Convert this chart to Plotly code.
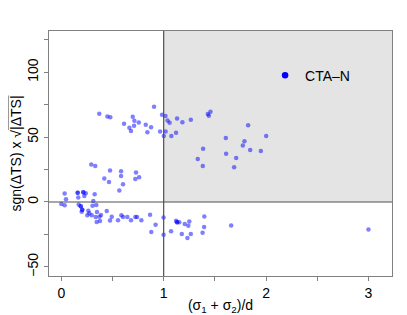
import plotly.graph_objects as go

# ratio (sigma1+sigma2)/d
x_vals = [
    0.371, 0.450, 0.479, 0.906, 0.613, 0.698, 0.714, 0.757, 0.711, 0.665,
    0.681, 0.825, 0.877, 0.841, 0.965, 0.984, 1.017, 1.038, 1.058, 1.019,
    1.001, 1.075, 1.121, 1.131, 1.183, 1.265, 1.431, 1.457, 1.441, 1.825,
    2.001, 1.607, 1.789, 1.773, 1.845, 1.949, 1.385, 1.333, 1.382, 1.610,
    1.708, 1.688,
    0.293, 0.332, 0.476, 0.584, 0.730, 0.584, 0.420, 0.466, 0.603, 0.760,
    0.723, 0.567,
    0.033, 0.046, 0.160, 0.215, 0.239, 0.225, 0.166, 0.326, 0.313, 0.000,
    0.033, 0.170, 0.190, 0.342, 0.305, 0.205, 0.199, 0.264, 0.274, 0.297,
    0.254, 0.349, 0.388, 0.373, 0.444, 0.336, 0.346, 0.378, 0.476, 0.493,
    0.554, 0.587, 0.603, 0.645, 0.681, 0.723, 0.740, 0.782, 0.867, 0.921,
    0.879, 0.999, 0.999, 1.072, 1.121, 1.131, 1.152, 1.206, 1.250, 1.241,
    1.177, 1.232, 1.265, 1.380, 1.395, 1.397, 1.659, 3.000,
    0.160, 0.215, 0.205, 0.190, 1.131,
]
# sgn(dTS) * sqrt(|dTS|)
y_vals = [
    68.0, 65.9, 65.2, 73.4, 60.3, 65.7, 62.6, 61.3, 58.8, 57.2,
    54.6, 59.5, 57.5, 53.8, 54.2, 67.2, 66.2, 62.8, 61.1, 54.2,
    50.8, 50.8, 53.4, 64.4, 61.5, 63.4, 67.7, 69.5, 66.5, 59.2,
    50.8, 49.2, 46.7, 43.6, 40.0, 39.2, 41.1, 33.1, 27.7, 37.2,
    33.8, 26.7,
    28.8, 27.7, 24.2, 23.6, 22.8, 20.0, 18.0, 15.4, 13.6, 19.0,
    17.7, 8.8,
    6.5, 2.1, 7.2, 7.5, 6.7, 4.6, 3.4, 5.9, 0.8, -1.5,
    -2.5, -2.0, -3.3, -2.3, -2.9, -6.0, -7.5, -6.8, -8.7, -10.2,
    -10.2, -7.7, -10.0, -11.4, -6.9, -11.5, -15.4, -14.6, -14.3, -11.4,
    -14.1, -10.2, -11.5, -11.5, -14.1, -11.5, -11.5, -14.1, -9.8, -17.5,
    -23.2, -12.0, -25.2, -22.5, -14.5, -15.6, -15.6, -16.9, -15.0, -18.3,
    -24.7, -27.7, -24.7, -23.7, -19.3, -11.2, -18.2, -21.2,
    7.2, 7.5, -6.0, -3.3, -15.6,
]

series_name = "CTA\u2013N"
x_tick_vals = [0, 0.5, 1, 1.5, 2, 2.5, 3]
x_tick_text = ["0", "", "1", "", "2", "", "3"]
y_tick_vals = [-50, -25, 0, 25, 50, 75, 100, 125]
y_tick_text = ["\u221250", "", "0", "", "50", "", "100", ""]
x_range = [-0.12, 3.23]
y_range = [-57, 131.7]

font_family = "Liberation Sans, Arial, sans-serif"

fig = go.Figure()
fig.add_trace(go.Scatter(
    x=x_vals, y=y_vals, mode="markers",
    marker=dict(color="rgba(0,0,255,0.5)", size=4.5, line=dict(width=0)),
    showlegend=False, hoverinfo="skip",
))
fig.add_trace(go.Scatter(
    x=[None], y=[None], mode="markers", name=series_name,
    marker=dict(color="#0000ff", size=6.5),
))

fig.add_shape(type="rect", xref="x", yref="y", x0=1, x1=x_range[1], y0=0, y1=y_range[1],
              fillcolor="#e4e4e4", line=dict(width=0), layer="below")
fig.add_shape(type="line", xref="x", yref="y domain", x0=1, x1=1, y0=0, y1=1,
              line=dict(color="#505050", width=1.2))
fig.add_shape(type="line", xref="x domain", yref="y", x0=0, x1=1, y0=0, y1=0,
              line=dict(color="#505050", width=1.2))

axis_common = dict(
    showgrid=False, zeroline=False, showline=True, mirror=True, automargin=False,
    linecolor="#808080", linewidth=1, ticks="outside", ticklen=4,
    tickcolor="#808080", tickwidth=1,
    tickfont=dict(family=font_family, size=14, color="#000"),
)

# page body has an 8px default margin, so the figure is 8px smaller and shifted
fig.update_layout(
    width=399, height=307,
    margin=dict(l=41, r=15, t=23, b=39),
    plot_bgcolor="white", paper_bgcolor="white",
    font=dict(family=font_family, size=14, color="#000"),
    xaxis=dict(range=x_range, tickvals=x_tick_vals, ticktext=x_tick_text,
               title=dict(text="(\u03c3<sub>1</sub> + \u03c3<sub>2</sub>)/d", standoff=0,
                          font=dict(size=14)),
               **axis_common),
    yaxis=dict(range=y_range, tickvals=y_tick_vals, ticktext=y_tick_text, tickangle=-90,
               title=dict(text="sgn(\u0394TS) x \u221a<span style='text-decoration:overline'>|\u0394TS|</span>",
                          standoff=0, font=dict(size=14)),
               **axis_common),
    legend=dict(x=0.63, y=0.8175, xanchor="left", yanchor="middle",
                bgcolor="rgba(0,0,0,0)", font=dict(size=14, family=font_family)),
)

fig.write_html("out.html")
